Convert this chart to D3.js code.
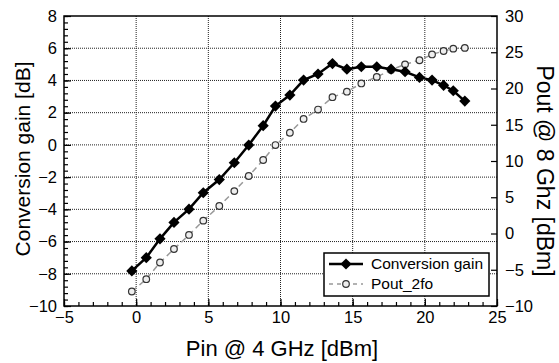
<!DOCTYPE html>
<html>
<head>
<meta charset="utf-8">
<script src="https://cdn.jsdelivr.net/npm/d3@7"></script>
<style>
  body { margin: 0; background: #fff; }
  text { font-family: "Liberation Sans", Arial, sans-serif; }
</style>
</head>
<body>
<div id="wrapper"></div>
<script>
// data
const pin = [-0.3, 0.7, 1.65, 2.62, 3.66, 4.65, 5.76, 6.8, 7.8, 8.8, 9.65, 10.65, 11.6, 12.6, 13.6,
  14.6, 15.6, 16.67, 17.66, 18.63, 19.63, 20.5, 21.3, 21.97, 22.77]
const gain = [-7.82, -7.0, -5.83, -4.81, -3.99, -2.97, -2.15, -1.11, -0.01, 1.19, 2.41, 3.09, 4.02,
  4.4, 5.05, 4.7, 4.85, 4.85, 4.7, 4.54, 4.19, 4.02, 3.7, 3.36, 2.72]
const pout = [-8.0, -6.3, -4.0, -2.14, -0.2, 1.77, 3.79, 5.85, 7.93, 10.14, 12.2, 13.9, 15.8, 17.1,
  18.8, 19.56, 20.7, 21.6, 22.55, 23.33, 23.9, 24.7, 25.17, 25.5, 25.6]
const xTicks = [-5, 0, 5, 10, 15, 20, 25]
const yLeftTicks = [-10, -8, -6, -4, -2, 0, 2, 4, 6, 8]
const yRightTicks = [-10, -5, 0, 5, 10, 15, 20, 25, 30]

const dimensions = {
  width: 559,
  height: 363,
  margin: { top: 16, right: 62, bottom: 57, left: 64 },
}
dimensions.boundedWidth = dimensions.width - dimensions.margin.left - dimensions.margin.right
dimensions.boundedHeight = dimensions.height - dimensions.margin.top - dimensions.margin.bottom

const svg = d3.select("#wrapper").append("svg")
    .attr("width", dimensions.width)
    .attr("height", dimensions.height)

const bounds = svg.append("g")
    .attr("transform", `translate(${dimensions.margin.left},${dimensions.margin.top})`)

const xScale = d3.scaleLinear().domain([-5, 25]).range([0, dimensions.boundedWidth])
const yLeft = d3.scaleLinear().domain([-10, 8]).range([dimensions.boundedHeight, 0])
const yRight = d3.scaleLinear().domain([-10, 30]).range([dimensions.boundedHeight, 0])

// grid
const grid = bounds.append("g")
    .attr("stroke", "#222")
    .attr("stroke-width", 1)
    .attr("stroke-dasharray", "1,1")
grid.selectAll(".gx").data(xTicks.slice(1, -1)).join("line")
    .attr("x1", d => xScale(d)).attr("x2", d => xScale(d))
    .attr("y1", 0).attr("y2", dimensions.boundedHeight)
grid.selectAll(".gy").data(yLeftTicks.slice(1, -1)).join("line")
    .attr("x1", 0).attr("x2", dimensions.boundedWidth)
    .attr("y1", d => yLeft(d)).attr("y2", d => yLeft(d))

// axes (ticks point inward)
const fontSize = "16.5px"
const xAxis = bounds.append("g")
    .attr("transform", `translate(0,${dimensions.boundedHeight})`)
    .call(d3.axisBottom(xScale).tickValues(xTicks).tickSize(-7).tickPadding(5))
xAxis.selectAll("text").style("font-size", fontSize).attr("fill", "#000")
const xMinor = bounds.append("g")
    .attr("transform", `translate(0,${dimensions.boundedHeight})`)
    .call(d3.axisBottom(xScale).tickValues(d3.range(-5, 25.01, 1)).tickSize(-4).tickFormat(""))

const yAxis = bounds.append("g")
    .call(d3.axisLeft(yLeft).tickValues(yLeftTicks).tickSize(-7).tickPadding(7))
yAxis.selectAll("text").style("font-size", fontSize).attr("fill", "#000")
const yMinor = bounds.append("g")
    .call(d3.axisLeft(yLeft).tickValues(d3.range(-10, 8.01, 0.4)).tickSize(-4).tickFormat(""))

const yAxisR = bounds.append("g")
    .attr("transform", `translate(${dimensions.boundedWidth},0)`)
    .call(d3.axisRight(yRight).tickValues(yRightTicks).tickSize(-6).tickPadding(8))
yAxisR.selectAll("text").style("font-size", fontSize).attr("fill", "#000")

svg.selectAll(".domain").remove()
svg.selectAll(".tick line").attr("stroke", "#000").attr("stroke-width", 1.2)

bounds.append("rect")
    .attr("width", dimensions.boundedWidth)
    .attr("height", dimensions.boundedHeight)
    .attr("fill", "none")
    .attr("stroke", "#000")
    .attr("stroke-width", 1.5)

// Pout_2fo series
const poutLine = d3.line().x((d, i) => xScale(pin[i])).y(d => yRight(d))
bounds.append("path")
    .datum(pout)
    .attr("d", poutLine)
    .attr("fill", "none")
    .attr("stroke", "#999")
    .attr("stroke-width", 1.5)
    .attr("stroke-dasharray", "6,4")
bounds.selectAll(".pc").data(pout).join("circle")
    .attr("cx", (d, i) => xScale(pin[i]))
    .attr("cy", d => yRight(d))
    .attr("r", 3.3)
    .attr("fill", "#eee")
    .attr("stroke", "#333")
    .attr("stroke-width", 1.2)

// Conversion gain series
const gainLine = d3.line().x((d, i) => xScale(pin[i])).y(d => yLeft(d))
bounds.append("path")
    .datum(gain)
    .attr("d", gainLine)
    .attr("fill", "none")
    .attr("stroke", "#000")
    .attr("stroke-width", 2.5)
const diamond = d3.symbol().type(d3.symbolDiamond2).size(80)
bounds.selectAll(".gd").data(gain).join("path")
    .attr("d", diamond)
    .attr("transform", (d, i) => `translate(${xScale(pin[i])},${yLeft(d)})`)
    .attr("fill", "#000")

// legend
const legend = svg.append("g").attr("transform", "translate(324,253)")
legend.append("rect")
    .attr("width", 165).attr("height", 43)
    .attr("fill", "#fff").attr("stroke", "#000").attr("stroke-width", 1.5)
legend.append("line").attr("x1", 5).attr("x2", 39).attr("y1", 11).attr("y2", 11)
    .attr("stroke", "#000").attr("stroke-width", 2.5)
legend.append("path").attr("d", diamond).attr("transform", "translate(22,11)").attr("fill", "#000")
legend.append("line").attr("x1", 5).attr("x2", 39).attr("y1", 31).attr("y2", 31)
    .attr("stroke", "#999").attr("stroke-width", 1.5).attr("stroke-dasharray", "4,4")
legend.append("circle").attr("cx", 22).attr("cy", 31).attr("r", 3.3)
    .attr("fill", "#eee").attr("stroke", "#333").attr("stroke-width", 1.2)
legend.append("text").attr("x", 47).attr("y", 16).style("font-size", "15.5px").text("Conversion gain")
legend.append("text").attr("x", 47).attr("y", 36).style("font-size", "15.5px").text("Pout_2fo")

// axis labels
svg.append("text")
    .attr("x", 282).attr("y", 356)
    .attr("text-anchor", "middle")
    .style("font-size", "22px")
    .text("Pin @ 4 GHz [dBm]")
svg.append("text")
    .attr("transform", "translate(30,159) rotate(-90)")
    .attr("text-anchor", "middle")
    .style("font-size", "21px")
    .text("Conversion gain [dB]")
svg.append("text")
    .attr("transform", "translate(537,171) rotate(90)")
    .attr("text-anchor", "middle")
    .style("font-size", "23px")
    .text("Pout @ 8 Ghz [dBm]")
</script>
</body>
</html>
